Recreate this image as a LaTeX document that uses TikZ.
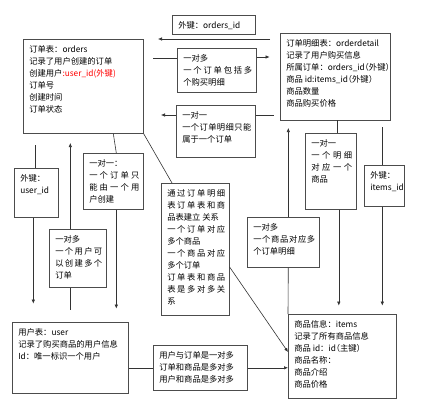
\documentclass[tikz,border=0pt]{standalone}
\usepackage{fontspec}
\usepackage{xcolor}
\usepackage{tikz}
\usetikzlibrary{arrows.meta,calc}
\newfontfamily\cjk{Noto Sans CJK SC}
\newfontfamily\cjkhalt{Noto Sans CJK SC}[RawFeature=+halt]
\XeTeXlinebreaklocale "zh"
\XeTeXlinebreakskip=0pt plus 3pt
% box contents: width, height, text (top aligned)
\newcommand{\cell}[4][4pt]{\parbox[c][#3pt][t]{#2pt}{\vspace{6pt}\leftskip=6pt\rightskip=#1 #4}}
\newcommand{\hp}[1]{{\cjkhalt #1}}

\begin{document}
\begin{tikzpicture}[x=1pt,y=-1pt,
  tbl/.style={draw=black!70, line width=0.6pt, anchor=north west, inner sep=0pt,
    font=\cjk\fontsize{8.3}{12}\selectfont},
  line/.style={draw=black!80, line width=0.6pt},
  arr/.style={line, -{Latex[length=4pt,width=3.5pt]}}]
  \useasboundingbox (0,0) rectangle (426,404);

  % tables
  \node[tbl] (orders) at (23,39) {\cell{120}{94}{订单表：orders\\
    记录了用户创建的订单\\
    创建用户\textcolor{red}{:user\_id(外键)}\\
    订单号\\ 创建时间\\ 订单状态}};
  \node[tbl] (detail) at (280,33) {\cell[0pt]{110}{87}{订单明细表：orderdetail\\
    记录了用户购买信息\\
    所属订单：orders\_id\hp{（}外键\hp{）}\\
    商品 id:items\_id\hp{（}外键\hp{）}\\
    商品数量\\ 商品购买价格}};
  \node[tbl] (items) at (288,314) {\cell{108}{84}{商品信息：items\\
    记录了所有商品信息\\
    商品 id：id\hp{（}主键\hp{）}\\
    商品名称：\\ 商品介绍\\ 商品价格}};
  \node[tbl] (user) at (12,322) {\cell{116}{71}{用户表：user\\
    记录了购买商品的用户信息\\
    Id：唯一标识一个用户}};

  % relations
  \node[tbl] (fkorders) at (172,15) {\cell{83}{19}{外键：orders\_id}};
  \node[tbl] (ordrel) at (177,48) {\cell{79}{44}{一对多\par
    一个订单包括多\linebreak 个购买明细}};
  \node[tbl] (detrel) at (176,105) {\cell{79}{52}{一对一\par
    一个订单明细只能\linebreak 属于一个订单}};
  \node[tbl] (itemrel) at (305,133) {\cell{51}{76}{一对一\par
    一个明细\linebreak 对应一个\linebreak 商品}};
  \node[tbl] (fkitems) at (364,165) {\cell[0pt]{40}{41}{外键：\\ items\_id}};
  \node[tbl] (itemsmany) at (247,217) {\cell{72}{50}{一对多\par
    一个商品对应多\linebreak 个订单明细}};
  \node[tbl] (center) at (161,183) {\cell{68}{132}{通过订单明细\linebreak
    表订单表和商\linebreak 品表建立 关系\par
    一个订单对应\linebreak 多个商品\par
    一个商品对应\linebreak 多个订单\par
    订单表和商品\linebreak 表是多对多关\linebreak 系}};
  \node[tbl] (fkuser) at (14,168) {\cell{44}{49}{外键：\\ user\_id}};
  \node[tbl] (usermany) at (49,229) {\cell{57}{58}{一对多\par
    一个用户可\linebreak 以创建多个\linebreak 订单}};
  \node[tbl] (userone) at (83,153) {\cell{60}{56}{一对一：\par
    一个订单只\linebreak 能由一个用\linebreak 户创建}};
  \node[tbl] (summary) at (153,345) {\cell{94}{45}{用户与订单是一对多\\
    订单和商品是多对多\\ 用户和商品是多对多}};

  % connectors
  \coordinate (fkstart) at (270,39);
  \coordinate (fkend) at (158,39);
  \draw[arr] (fkstart) -- (fkend);
  \draw[line] ($(ordrel.north west)+(0,10)$) -- ++(-24,0);
  \draw[arr] ($(ordrel.north east)+(0,9)$) -- ++(13,0);
  \draw[arr] ($(detrel.north west)+(0,10)$) -- ++(-15,0);
  \draw[line] ($(detrel.north east)+(0,10)$) -- ++(18,0);
  \draw[line] ($(itemrel.north)+(6,0)$) -- ++(0,-13);
  \draw[arr] ($(itemrel.south)+(8,0)$) -- ++(0,96);
  \draw[line] ($(fkitems.north)+(-2,0)$) -- ++(0,-38);
  \draw[arr] ($(fkitems.south)+(-2,0)$) -- ++(0,99);
  \draw[arr] ($(itemsmany.north)+(5,0)$) -- ++(0,-89);
  \draw[line] ($(itemsmany.south)+(5,0)$) -- (items.north west);
  \draw[line] (orders.south east) -- ($(center.north west)+(11,0)$);
  \draw[arr] ($(center.north east)+(0,84)$) -- ($(items.north west)+(0,38)$);
  \draw[line] ($(fkuser.north)+(-1,0)$) -- ++(0,-23);
  \draw[arr] ($(fkuser.south)+(-3,0)$) -- ++(0,86);
  \draw[arr] ($(usermany.north)+(-7.5,0)$) -- ++(0,-86);
  \draw[line] ($(usermany.south)+(-7.5,0)$) -- ++(0,22);
  \draw[line] ($(userone.north)+(3,0)$) -- (orders.south -| userone.north);
  \draw[arr] ($(userone.south)+(3,0)$) -- ++(0,99);
  \draw[line] (summary.west) -- (summary.west -| user.east);
  \draw[arr] (summary.east) -- (summary.east -| items.west);
\end{tikzpicture}
\end{document}
